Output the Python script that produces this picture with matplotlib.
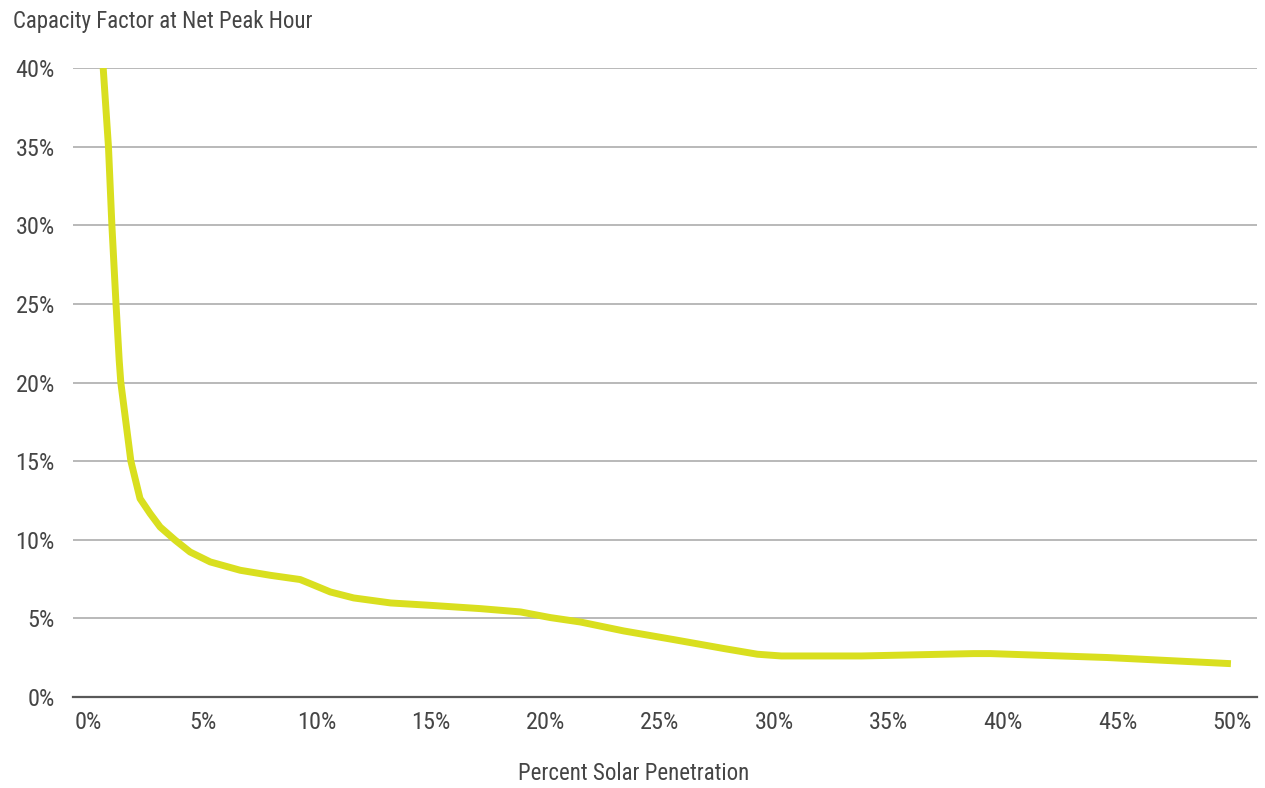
import matplotlib
matplotlib.use("Agg")
import matplotlib.pyplot as plt
from matplotlib import font_manager as fm
from matplotlib.ticker import FuncFormatter

# Data
penetration = [0.66, 0.89, 1.04, 1.22, 1.36, 1.43, 1.87, 2.27, 2.71, 3.15, 3.81, 4.46,
               5.34, 6.65, 7.96, 9.27, 9.71, 10.59, 11.61, 13.23, 14.96, 17.15, 18.9,
               20.21, 21.52, 23.42, 25.6, 27.8, 29.26, 30.3, 33.8, 38.7, 39.45, 44.56, 49.96]
capacity_factor = [40.0, 35.0, 30.0, 25.0, 21.4, 20.0, 15.0, 12.62, 11.67, 10.81, 9.97, 9.22,
                   8.59, 8.06, 7.74, 7.47, 7.21, 6.68, 6.30, 5.98, 5.83, 5.62, 5.41,
                   5.05, 4.77, 4.20, 3.65, 3.08, 2.72, 2.61, 2.61, 2.76, 2.76, 2.51, 2.12]
x_ticks = [0, 5, 10, 15, 20, 25, 30, 35, 40, 45, 50]
y_ticks = [0, 5, 10, 15, 20, 25, 30, 35, 40]

names = {f.name for f in fm.fontManager.ttflist}
prefs = ["Roboto Condensed", "Fira Sans Condensed", "Open Sans Condensed", "IBM Plex Sans Condensed",
         "PT Sans Narrow", "Archivo Narrow", "Asap Condensed", "Encode Sans Condensed",
         "Liberation Sans Narrow", "Lato"]
family = next((p for p in prefs if p in names), "DejaVu Sans")
plt.rcParams['font.family'] = [family, 'DejaVu Sans']
weight = "normal"

text_color = "#454545"
fig = plt.figure(figsize=(12.65, 7.88), dpi=100)
ax = fig.add_axes([73/1265, 1-697/788, (1257-73)/1265, (697-68)/788])

ax.plot(penetration, capacity_factor, color="#d9df1f", lw=5, solid_capstyle="butt",
        solid_joinstyle="round", zorder=3)

ax.set_xlim(-0.66, 51.1)
ax.set_ylim(0, 40)
ax.set_xticks(x_ticks)
ax.set_yticks(y_ticks)
ax.xaxis.set_major_formatter(FuncFormatter(lambda v, p: f"{v:.0f}%"))
ax.yaxis.set_major_formatter(FuncFormatter(lambda v, p: f"{v:.0f}%"))
ax.grid(axis="y", color="#a6a6a6", lw=1.1, zorder=0)
ax.set_axisbelow(True)
for s in ["top", "right", "left"]:
    ax.spines[s].set_visible(False)
ax.spines["bottom"].set_color("#595959")
ax.spines["bottom"].set_linewidth(1.6)
ax.spines["bottom"].set_zorder(2)
ax.tick_params(axis="both", length=0, labelsize=17.5, labelcolor=text_color)
ax.tick_params(axis="y", pad=13)
ax.tick_params(axis="x", pad=10)
for lab in ax.get_xticklabels() + ax.get_yticklabels():
    lab.set_fontweight(weight)

ax.set_xlabel("Percent Solar Penetration", fontsize=16.5, color=text_color, labelpad=20,
              fontweight=weight)
ax.xaxis.set_label_coords((634 - 73) / 1184, -(780 - 697) / 629 + 0.0, transform=ax.transAxes)
ax.xaxis.label.set_va("baseline")
fig.text(13/1265, 1-28/788, "Capacity Factor at Net Peak Hour", fontsize=16.5,
         color=text_color, ha="left", va="baseline", fontweight=weight)

fig.savefig("out.png", dpi=100, facecolor="white")
